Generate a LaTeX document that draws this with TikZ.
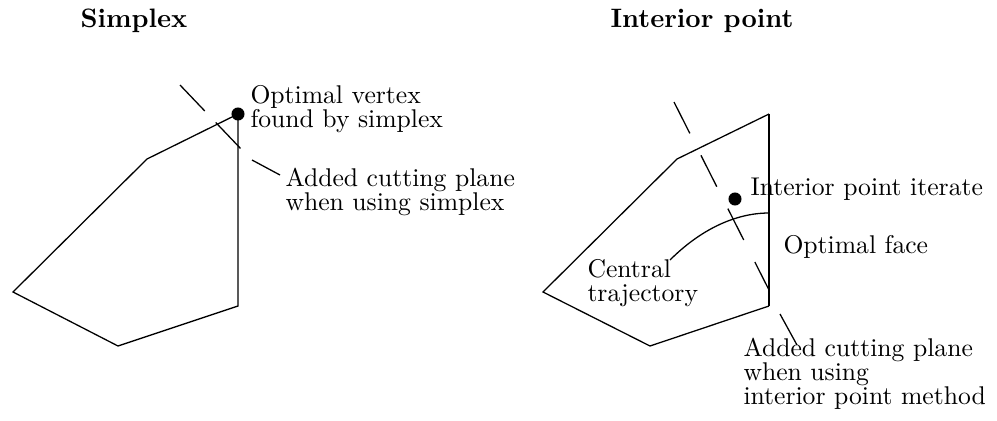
\documentclass[tikz,border=0pt]{standalone}
\begin{document}
\begin{tikzpicture}[x=0.39pt,y=-0.39pt,
  edge/.style={line width=0.5pt, line join=miter},
  face/.style={line width=1pt},
  cutline/.style={line width=0.5pt},
  leader/.style={line width=0.5pt},
  % multi-line labels are placed by the baseline of their last line
  txt/.style={inner sep=0pt, anchor=base west, align=left,
    font=\fontsize{10}{9.2}\selectfont},
  title/.style={inner sep=0pt, anchor=base west, font=\fontsize{10.4}{12}\selectfont\bfseries},
  vertexdot/.style={circle, fill=black, draw=none, inner sep=0pt, minimum size=5.1pt}]
\useasboundingbox (0,0) rectangle (997,420);

% ---------- Simplex ----------
\node[title] (tS) at (80,27) {Simplex};

\coordinate (a1) at (13,292);
\coordinate (a2) at (147,159);
\coordinate (a4) at (238,306);
\coordinate (a5) at (118,346);
\node[vertexdot] (opt) at (238,114) {};
\draw[edge] (a1) -- (a2) -- (opt.center) -- (a4) -- (a5) -- cycle;

% cutting plane and its leader
\coordinate (c1) at (180,85);
\coordinate (c2) at (242,150);
\draw[cutline, dash pattern=on 14pt off 6.2pt] (c1) -- (c2);
\coordinate (l1) at (252,160);
\coordinate (l2) at (280,175);
\draw[leader] (l1) -- (l2);

\node[txt] (optlab) at (250,127) {Optimal vertex\\found by simplex};
\node[txt] (cutlab) at (285,210) {Added cutting plane\\when using simplex};

% ---------- Interior point ----------
\node[title] (tI) at (610,27) {Interior point};

\coordinate (b1) at (543,292);
\coordinate (b2) at (677,159);
\coordinate (b3) at (769,114);
\coordinate (b4) at (769,306);
\coordinate (b5) at (650,346);
\draw[edge] (b3) -- (b2) -- (b1) -- (b5) -- (b4);
\draw[face] (b3) -- (b4);

% central trajectory
\coordinate (ct0) at (670,260);
\coordinate (ct1) at (769,213);
\draw[edge] (ct0) .. controls (700,230) and (735,213) .. (ct1);

% interior iterate
\node[vertexdot] (iter) at (735,199) {};

% cutting plane and its leader
\coordinate (d1) at (674,102);
\coordinate (d2) at (769,290);
\draw[cutline, dash pattern=on 13.7pt off 9.6pt] (d1) -- (d2);
\coordinate (m1) at (780,314);
\coordinate (m2) at (797,345);
\draw[leader] (m1) -- (m2);

\node[txt] (itlab) at (750,195) {Interior point iterate};
\node[txt] (facelab) at (783,253) {Optimal face};
\node[txt] (ctlab) at (587,301) {Central\\trajectory};
\node[txt] (cut2lab) at (743,404) {Added cutting plane\\when using\\interior point method};
\end{tikzpicture}
\end{document}
